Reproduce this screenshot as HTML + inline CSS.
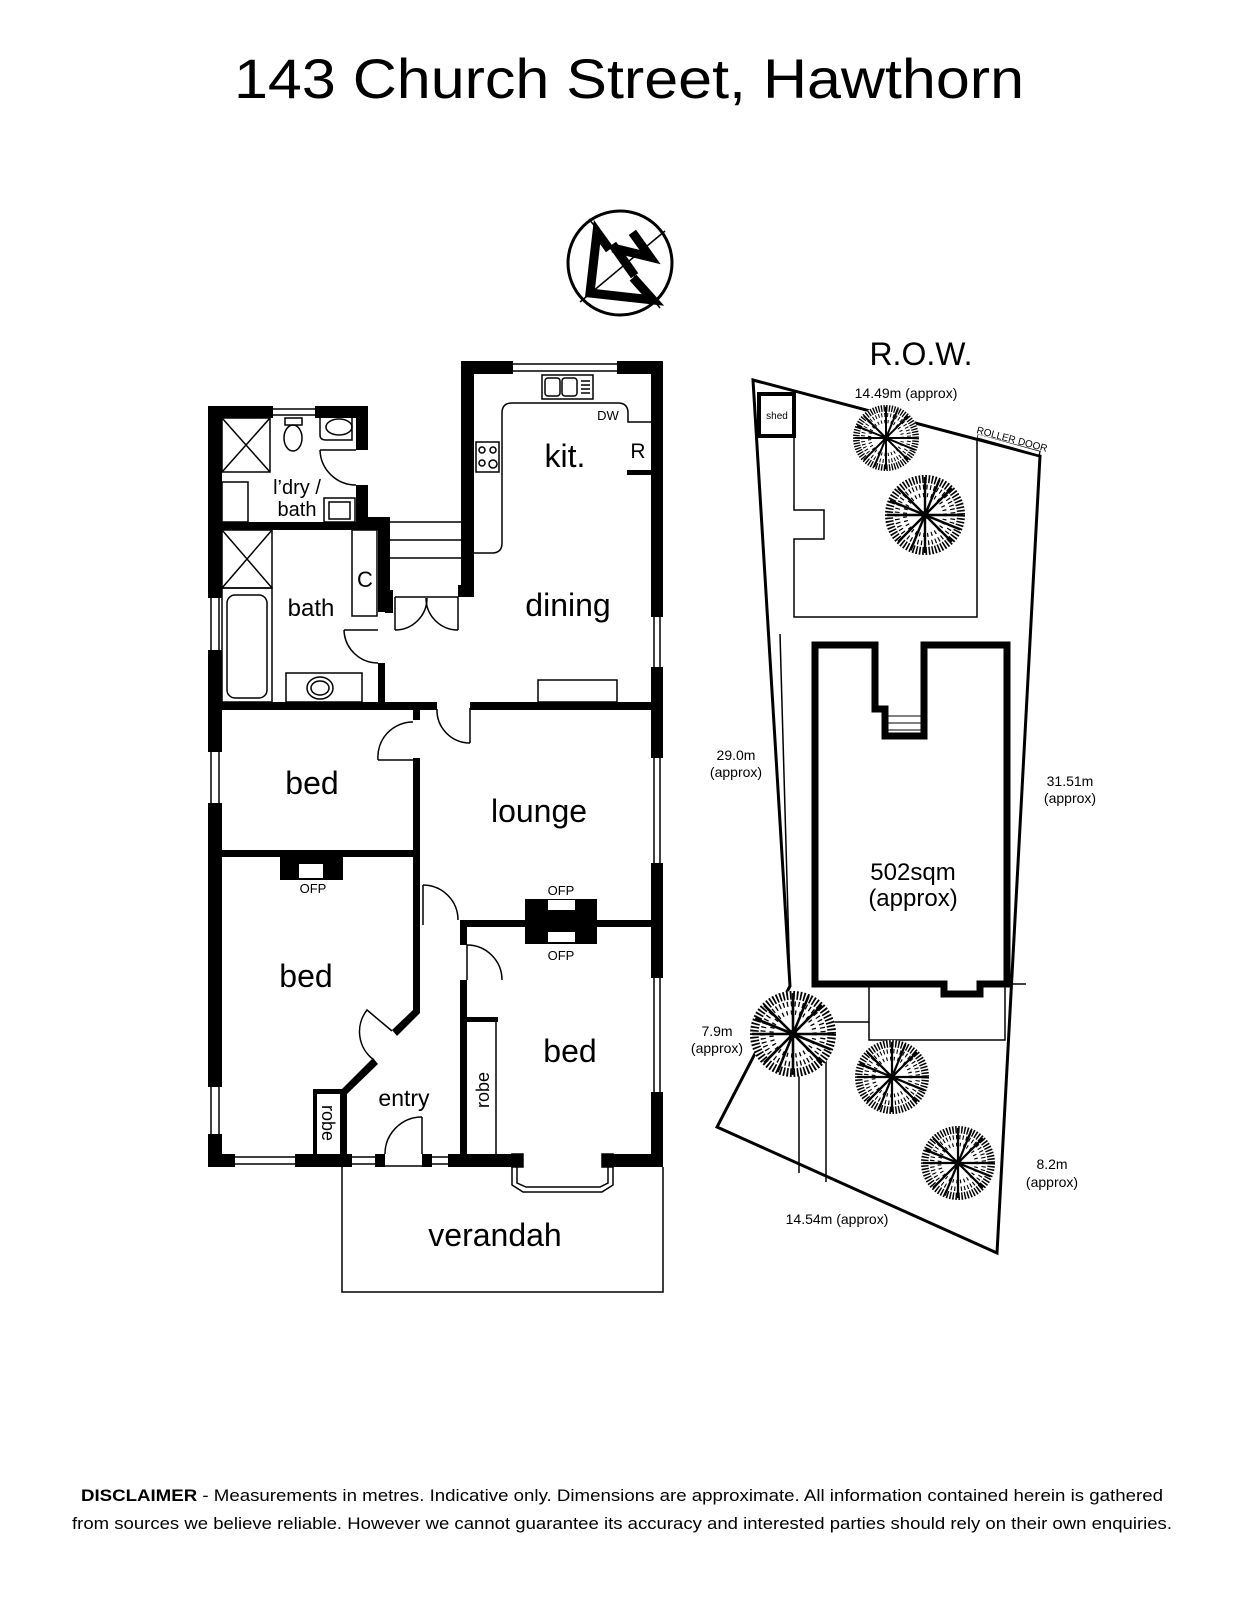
<!DOCTYPE html>
<html><head><meta charset="utf-8"><style>
html,body{margin:0;padding:0;background:#fff}
svg{display:block}
text{font-family:"Liberation Sans",Arial,sans-serif;fill:#000}
</style></head><body>
<svg width="1243" height="1600" viewBox="0 0 1243 1600" xmlns="http://www.w3.org/2000/svg">
<defs>
<g id="tree">
<circle r="1" fill="#fff"/>
<circle r="0.9" fill="none" stroke="#000" stroke-width="0.2" stroke-dasharray="0.04 0.04"/>
<circle r="0.7" fill="none" stroke="#000" stroke-width="0.12" stroke-dasharray="0.03 0.06"/>
<circle r="0.5" fill="none" stroke="#000" stroke-width="0.1" stroke-dasharray="0.03 0.07"/>
<g stroke="#000" stroke-width="0.06">
<line x1="0" y1="0" x2="0.95" y2="0"/><line x1="0" y1="0" x2="-0.95" y2="0"/>
<line x1="0" y1="0" x2="0" y2="0.95"/><line x1="0" y1="0" x2="0" y2="-0.95"/>
<line x1="0" y1="0" x2="0.67" y2="0.67"/><line x1="0" y1="0" x2="-0.67" y2="-0.67"/>
<line x1="0" y1="0" x2="0.67" y2="-0.67"/><line x1="0" y1="0" x2="-0.67" y2="0.67"/>
<line x1="0" y1="0" x2="0.88" y2="0.36"/><line x1="0" y1="0" x2="-0.88" y2="-0.36"/>
<line x1="0" y1="0" x2="0.36" y2="-0.88"/><line x1="0" y1="0" x2="-0.36" y2="0.88"/>
</g>
<circle r="0.1" fill="#000"/>
</g>
</defs>

<text x="629" y="98" font-size="56" text-anchor="middle" textLength="790" lengthAdjust="spacingAndGlyphs">143 Church Street, Hawthorn</text>

<!-- compass -->
<g fill="none" stroke="#000" transform="translate(4,5)">
<circle cx="616" cy="258" r="52" stroke-width="3"/>
<line x1="585" y1="214" x2="656" y2="303" stroke-width="1.5"/>
<line x1="576" y1="297" x2="661" y2="226" stroke-width="1.5"/>
<g stroke-width="9" stroke-linecap="square">
<polyline points="603,241 593,227 586,288 649,295 632,276"/>
<polyline points="611,243 628,267"/>
<polyline points="613,244 646,252 631,231"/>
</g>
</g>

<!-- ===== FLOOR PLAN ===== -->
<g fill="#000">
<rect x="208" y="406" width="65" height="12"/>
<rect x="315" y="406" width="53" height="12"/>
<rect x="208" y="406" width="14" height="192"/>
<rect x="208" y="650" width="14" height="102"/>
<rect x="208" y="803" width="14" height="284"/>
<rect x="208" y="1134" width="14" height="33"/>
<rect x="356" y="406" width="12" height="44"/>
<rect x="356" y="485" width="12" height="45"/>
<rect x="356" y="517" width="34" height="13"/>
<rect x="222" y="522" width="140" height="8"/>
<rect x="378" y="522" width="12" height="90"/>
<rect x="385" y="590" width="8" height="23"/>
<rect x="378" y="663" width="7" height="45"/>
<rect x="461" y="361" width="52" height="13"/>
<rect x="617" y="361" width="46" height="13"/>
<rect x="461" y="361" width="13" height="236"/>
<rect x="458" y="585" width="16" height="12"/>
<rect x="651" y="361" width="12" height="256"/>
<rect x="651" y="667" width="12" height="91"/>
<rect x="651" y="863" width="12" height="115"/>
<rect x="651" y="1092" width="12" height="75"/>
<rect x="627" y="470" width="24" height="5"/>
<rect x="208" y="702" width="229" height="8"/>
<rect x="470" y="702" width="193" height="8"/>
<rect x="413" y="710" width="7" height="10"/>
<rect x="413" y="758" width="7" height="252"/>
<rect x="222" y="850" width="191" height="7"/>
<rect x="280" y="857" width="63" height="23"/>
<rect x="460" y="920" width="191" height="7"/>
<rect x="525" y="899" width="72" height="45"/>
<rect x="460" y="927" width="7" height="18"/>
<rect x="460" y="980" width="7" height="174"/>
<rect x="467" y="1017" width="31" height="5"/>
<rect x="208" y="1154" width="27" height="13"/>
<rect x="295" y="1154" width="57" height="13"/>
<rect x="375" y="1154" width="10" height="13"/>
<rect x="422" y="1154" width="10" height="13"/>
<rect x="448" y="1154" width="75" height="13"/>
<rect x="602" y="1154" width="61" height="13"/>
<polygon points="413,1010 420,1010 420,1013 397,1036 392,1030"/>
<polygon points="373,1058 378,1064 347,1094 347,1154 340,1154 340,1091"/>
<rect x="313" y="1089" width="34" height="5"/>
<rect x="313" y="1089" width="4" height="65"/>
</g>

<g fill="#fff">
<rect x="299" y="864" width="24" height="14"/>
<rect x="548" y="900" width="27" height="10"/>
<rect x="548" y="932" width="27" height="10"/>
</g>

<g fill="none" stroke="#000" stroke-width="1.5">
<line x1="273" y1="409" x2="315" y2="409"/><line x1="273" y1="415" x2="315" y2="415"/>
<line x1="513" y1="364" x2="617" y2="364"/><line x1="513" y1="371" x2="617" y2="371"/>
<line x1="211" y1="598" x2="211" y2="650"/><line x1="219" y1="598" x2="219" y2="650"/>
<line x1="211" y1="752" x2="211" y2="803"/><line x1="219" y1="752" x2="219" y2="803"/>
<line x1="211" y1="1087" x2="211" y2="1134"/><line x1="219" y1="1087" x2="219" y2="1134"/>
<line x1="654" y1="617" x2="654" y2="667"/><line x1="660" y1="617" x2="660" y2="667"/>
<line x1="654" y1="758" x2="654" y2="863"/><line x1="660" y1="758" x2="660" y2="863"/>
<line x1="654" y1="978" x2="654" y2="1092"/><line x1="660" y1="978" x2="660" y2="1092"/>
<line x1="235" y1="1157" x2="295" y2="1157"/><line x1="235" y1="1164" x2="295" y2="1164"/>
<line x1="352" y1="1157" x2="375" y2="1157"/><line x1="352" y1="1164" x2="375" y2="1164"/>
<line x1="432" y1="1157" x2="448" y2="1157"/><line x1="432" y1="1164" x2="448" y2="1164"/>
<line x1="385" y1="1166" x2="422" y2="1166"/>
<polyline points="512,1167 512,1185 523,1192 602,1192 613,1185 613,1167"/>
<polyline points="517,1167 517,1183 526,1187 600,1187 608,1183 608,1167"/>
<rect x="512" y="1154" width="11" height="13" fill="#000"/>
<rect x="602" y="1154" width="11" height="13" fill="#000"/>
<rect x="222" y="418" width="48" height="54"/>
<line x1="222" y1="418" x2="270" y2="472"/><line x1="270" y1="418" x2="222" y2="472"/>
<rect x="222" y="482" width="26" height="40"/>
<rect x="285" y="418" width="17" height="7"/>
<ellipse cx="293" cy="438" rx="9" ry="13"/>
<path d="M320 418 L320 435 Q320 440 326 440 L352 440 L352 418"/>
<ellipse cx="339" cy="427" rx="13" ry="8"/>
<line x1="320" y1="450" x2="356" y2="450"/>
<path d="M320 450 A36 36 0 0 0 356 485"/>
<rect x="324" y="498" width="31" height="24"/><rect x="329" y="502" width="21" height="17"/>
<rect x="222" y="530" width="50" height="58"/>
<line x1="222" y1="530" x2="272" y2="588"/><line x1="272" y1="530" x2="222" y2="588"/>
<rect x="222" y="588" width="50" height="114"/>
<rect x="227" y="595" width="40" height="103" rx="8"/>
<rect x="286" y="673" width="76" height="29"/>
<ellipse cx="320" cy="688" rx="13" ry="11"/><ellipse cx="320" cy="688" rx="9" ry="7"/>
<rect x="352" y="530" width="25" height="86"/>
<line x1="344" y1="630" x2="378" y2="630"/>
<path d="M344 630 A34 34 0 0 0 378 663"/>
<line x1="390" y1="522" x2="461" y2="522"/>
<line x1="390" y1="540" x2="461" y2="540"/>
<line x1="390" y1="558" x2="461" y2="558"/>
<line x1="395" y1="597" x2="458" y2="597"/>
<line x1="395" y1="597" x2="395" y2="630"/>
<line x1="458" y1="597" x2="458" y2="630"/>
<path d="M395 630 A32 32 0 0 0 427 598"/>
<path d="M458 630 A32 32 0 0 1 426 598"/>
<path d="M474 553 L492 553 Q502 553 502 543 L502 413 Q502 403 512 403 L618 403 Q628 403 628 413 L628 422 L651 422"/>
<rect x="542" y="375" width="51" height="24"/>
<rect x="545" y="378" width="15" height="18" rx="3"/><rect x="562" y="378" width="15" height="18" rx="3"/>
<line x1="581" y1="381" x2="590" y2="381"/><line x1="581" y1="385" x2="590" y2="385"/><line x1="581" y1="389" x2="590" y2="389"/><line x1="581" y1="393" x2="590" y2="393"/>
<rect x="476" y="442" width="23" height="30"/>
<circle cx="482" cy="450" r="3"/><circle cx="493" cy="450" r="3"/><circle cx="482" cy="463" r="3"/><circle cx="493" cy="464" r="4"/>
<rect x="538" y="680" width="79" height="22"/>
<line x1="470" y1="708" x2="470" y2="743"/>
<path d="M437 709 A33 33 0 0 0 470 743"/>
<line x1="378" y1="760" x2="413" y2="760"/>
<path d="M378 760 A35 35 0 0 1 413 722"/>
<line x1="423" y1="885" x2="423" y2="925"/>
<path d="M423 885 A35 35 0 0 1 458 920"/>
<line x1="467" y1="945" x2="467" y2="980"/>
<path d="M467 945 A35 35 0 0 1 502 980"/>
<path d="M392 1031 L367 1010 A35 35 0 0 0 374 1060"/>
<line x1="422" y1="1117" x2="422" y2="1154"/>
<path d="M422 1117 A37 37 0 0 0 385 1154"/>
<line x1="343" y1="1094" x2="343" y2="1154"/>
<line x1="496" y1="1022" x2="496" y2="1154"/>
<polyline points="342,1167 342,1292 663,1292 663,1167"/>
</g>

<g font-size="20" text-anchor="middle">
<text x="297" y="494">l’dry /</text>
<text x="297" y="516">bath</text>
<text x="365" y="587" font-size="22">C</text>
<text x="311" y="616" font-size="24">bath</text>
<text x="565" y="467" font-size="32">kit.</text>
<text x="608" y="420" font-size="13">DW</text>
<text x="638" y="458" font-size="21">R</text>
<text x="568" y="616" font-size="32">dining</text>
<text x="312" y="794" font-size="32">bed</text>
<text x="539" y="822" font-size="32">lounge</text>
<text x="306" y="987" font-size="32">bed</text>
<text x="313" y="893" font-size="13">OFP</text>
<text x="561" y="895" font-size="13">OFP</text>
<text x="561" y="960" font-size="13">OFP</text>
<text x="570" y="1062" font-size="32">bed</text>
<text x="404" y="1106" font-size="23">entry</text>
<text x="495" y="1246" font-size="32">verandah</text>
<text transform="translate(322,1123) rotate(90)" font-size="18">robe</text>
<text transform="translate(489,1090) rotate(-90)" font-size="18">robe</text>
</g>

<!-- ===== SITE PLAN ===== -->
<text x="921" y="365" font-size="32" text-anchor="middle">R.O.W.</text>
<g fill="none" stroke="#000">
<polygon points="753,380 1040,456 997,1253 717,1127 790,986" stroke-width="3"/>
<rect x="759" y="394" width="35" height="42" stroke-width="4"/>
<line x1="977" y1="437" x2="1040" y2="454" stroke-width="6"/>
<line x1="978" y1="436" x2="1039" y2="453" stroke="#fff" stroke-width="3"/>
<polyline points="794,436 794,510 824,510 824,539 794,539 794,617 977,617 977,439" stroke-width="1.5"/>
<polyline points="780,634 790,986" stroke-width="1.5"/>
<polygon points="815,645 875,645 875,709 885,709 885,736 924,736 924,645 1007,645 1007,984 980,984 980,994 944,994 944,984 815,984" stroke-width="7"/>
<line x1="885" y1="716" x2="924" y2="716" stroke-width="1"/>
<line x1="885" y1="723" x2="924" y2="723" stroke-width="1"/>
<line x1="885" y1="730" x2="924" y2="730" stroke-width="1"/>
<polyline points="869,987 869,1040 1005,1040 1005,987" stroke-width="1.5"/>
<line x1="1010" y1="984" x2="1026" y2="984" stroke-width="1.5"/>
<line x1="792" y1="1022" x2="869" y2="1022" stroke-width="1.5"/>
<line x1="799" y1="1040" x2="799" y2="1173" stroke-width="1.5"/>
<line x1="826" y1="1040" x2="826" y2="1182" stroke-width="1.5"/>
</g>
<use href="#tree" transform="translate(886,438) scale(33)"/>
<use href="#tree" transform="translate(925,515) scale(40)"/>
<use href="#tree" transform="translate(793,1034) scale(43)"/>
<use href="#tree" transform="translate(892,1077) scale(37)"/>
<use href="#tree" transform="translate(958,1163) scale(37)"/>
<text x="777" y="419" font-size="10" text-anchor="middle">shed</text>
<text transform="translate(976,433) rotate(15)" font-size="10">ROLLER DOOR</text>
<g font-size="14" text-anchor="middle">
<text x="906" y="398">14.49m (approx)</text>
<text x="736" y="760">29.0m</text>
<text x="736" y="777">(approx)</text>
<text x="1070" y="786">31.51m</text>
<text x="1070" y="803">(approx)</text>
<text x="913" y="880" font-size="24">502sqm</text>
<text x="913" y="906" font-size="24">(approx)</text>
<text x="717" y="1036">7.9m</text>
<text x="717" y="1053">(approx)</text>
<text x="1052" y="1169">8.2m</text>
<text x="1052" y="1187">(approx)</text>
<text x="837" y="1224">14.54m (approx)</text>
</g>

<g font-size="17" text-anchor="middle">
<text x="622" y="1501" textLength="1082" lengthAdjust="spacingAndGlyphs"><tspan font-weight="bold">DISCLAIMER</tspan> - Measurements in metres. Indicative only. Dimensions are approximate. All information contained herein is gathered</text>
<text x="622" y="1529" textLength="1100" lengthAdjust="spacingAndGlyphs">from sources we believe reliable. However we cannot guarantee its accuracy and interested parties should rely on their own enquiries.</text>
</g>
</svg>
</body></html>
